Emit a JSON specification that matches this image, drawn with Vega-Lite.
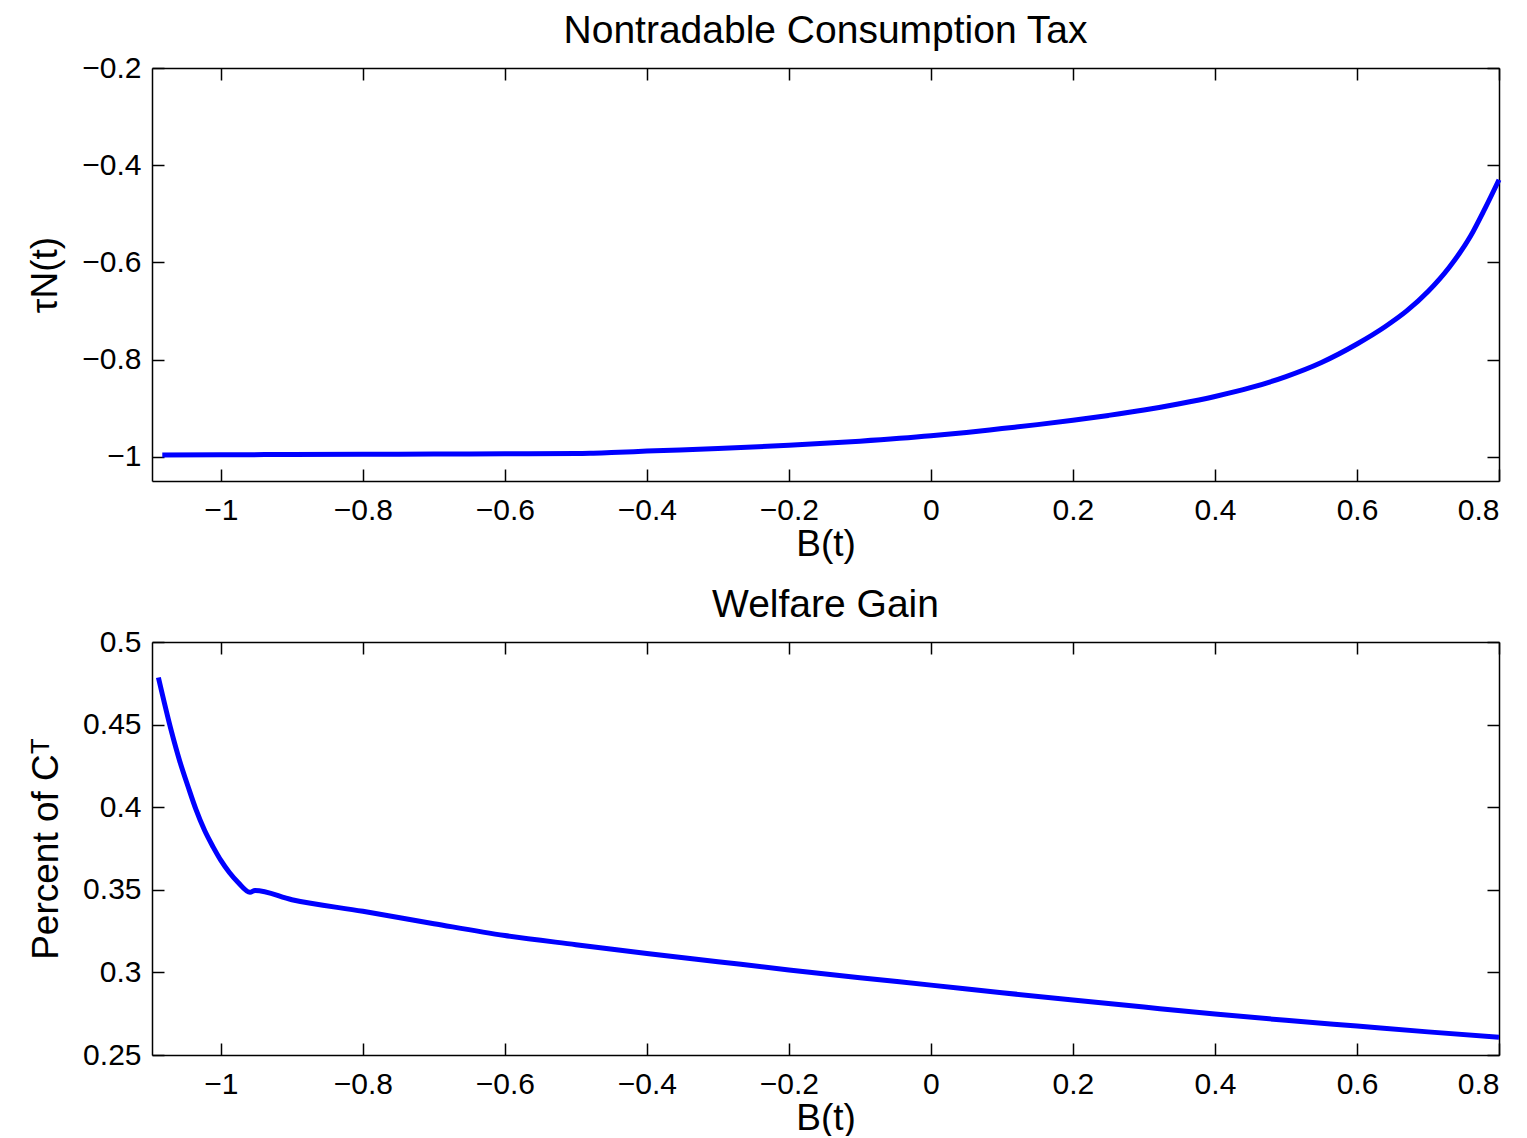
{
  "$schema": "https://vega.github.io/schema/vega-lite/v6.json",
  "background": "white",
  "padding": {"left": 26, "top": 12, "right": 10, "bottom": 0},
  "config": {
    "font": "Liberation Sans",
    "view": {"stroke": null},
    "axis": {
      "grid": false,
      "domainColor": "black",
      "domainWidth": 1.5,
      "tickColor": "black",
      "tickWidth": 1.5,
      "tickSize": -12,
      "labelFont": "Liberation Sans",
      "labelFontSize": 30,
      "labelColor": "black",
      "titleFont": "Liberation Sans",
      "titleFontSize": 37,
      "titleFontWeight": "normal",
      "titleColor": "black"
    },
    "title": {"font": "Liberation Sans", "fontSize": 39, "fontWeight": "normal", "color": "black"}
  },
  "datasets": {
    "tau": [
      {"B": -1.0825, "tau": -0.9965},
      {"B": -1.0, "tau": -0.996},
      {"B": -0.9, "tau": -0.9955},
      {"B": -0.8, "tau": -0.995},
      {"B": -0.7, "tau": -0.9945},
      {"B": -0.6, "tau": -0.994},
      {"B": -0.5, "tau": -0.9935},
      {"B": -0.48, "tau": -0.993},
      {"B": -0.45, "tau": -0.9915},
      {"B": -0.4, "tau": -0.9885},
      {"B": -0.3, "tau": -0.983},
      {"B": -0.2, "tau": -0.9765},
      {"B": -0.1, "tau": -0.968},
      {"B": 0.0, "tau": -0.957},
      {"B": 0.05, "tau": -0.95},
      {"B": 0.1, "tau": -0.942},
      {"B": 0.15, "tau": -0.934},
      {"B": 0.2, "tau": -0.925},
      {"B": 0.25, "tau": -0.915},
      {"B": 0.3, "tau": -0.904},
      {"B": 0.35, "tau": -0.891},
      {"B": 0.4, "tau": -0.876},
      {"B": 0.45, "tau": -0.858},
      {"B": 0.5, "tau": -0.835},
      {"B": 0.55, "tau": -0.806},
      {"B": 0.6, "tau": -0.768},
      {"B": 0.64, "tau": -0.732},
      {"B": 0.67, "tau": -0.7},
      {"B": 0.7, "tau": -0.66},
      {"B": 0.73, "tau": -0.61},
      {"B": 0.76, "tau": -0.546},
      {"B": 0.78, "tau": -0.49},
      {"B": 0.8, "tau": -0.43}
    ],
    "welfare": [
      {"B": -1.088, "w": 0.4785},
      {"B": -1.07, "w": 0.4465},
      {"B": -1.058, "w": 0.428},
      {"B": -1.046, "w": 0.4122},
      {"B": -1.035, "w": 0.3985},
      {"B": -1.023, "w": 0.386},
      {"B": -1.011, "w": 0.376},
      {"B": -1.0, "w": 0.3678},
      {"B": -0.988, "w": 0.3605},
      {"B": -0.976, "w": 0.3546},
      {"B": -0.959, "w": 0.3485},
      {"B": -0.952, "w": 0.3496},
      {"B": -0.9, "w": 0.344},
      {"B": -0.8, "w": 0.337},
      {"B": -0.7, "w": 0.3295},
      {"B": -0.6, "w": 0.3223},
      {"B": -0.5, "w": 0.3168},
      {"B": -0.4, "w": 0.3115},
      {"B": -0.3, "w": 0.3065},
      {"B": -0.2, "w": 0.3015},
      {"B": -0.1, "w": 0.2968},
      {"B": 0.0, "w": 0.2923},
      {"B": 0.1, "w": 0.2877},
      {"B": 0.2, "w": 0.2833},
      {"B": 0.3, "w": 0.279},
      {"B": 0.4, "w": 0.2748},
      {"B": 0.5, "w": 0.271},
      {"B": 0.6, "w": 0.2675},
      {"B": 0.7, "w": 0.264},
      {"B": 0.8, "w": 0.2607}
    ]
  },
  "spacing": 24,
  "vconcat": [
    {
      "width": 1347,
      "height": 413,
      "title": {"text": "Nontradable Consumption Tax", "offset": 2},
      "data": {"name": "tau"},
      "layer": [
        {
          "mark": {"type": "line", "color": "#0000FF", "strokeWidth": 5, "interpolate": "monotone"},
          "encoding": {
            "x": {"field": "B", "type": "quantitative", "scale": {"domain": [-1.097, 0.8], "nice": false, "zero": false},
              "axis": {"title": "B(t)", "values": [-1, -0.8, -0.6, -0.4, -0.2, 0, 0.2, 0.4, 0.6, 0.8], "format": "~g", "labelPadding": 26, "titlePadding": 1}},
            "y": {"field": "tau", "type": "quantitative", "scale": {"domain": [-1.05, -0.2], "nice": false, "zero": false},
              "axis": {"title": "τN(t)", "values": [-1, -0.8, -0.6, -0.4, -0.2], "format": "~g", "labelPadding": 23, "titlePadding": 17}}
          }
        },
        {
          "mark": {"type": "line", "opacity": 0},
          "encoding": {
            "x": {"field": "B", "type": "quantitative", "axis": {"orient": "top", "labels": false, "title": null, "values": [-1, -0.8, -0.6, -0.4, -0.2, 0, 0.2, 0.4, 0.6, 0.8]}},
            "y": {"field": "tau", "type": "quantitative", "axis": {"orient": "right", "labels": false, "title": null, "values": [-1, -0.8, -0.6, -0.4, -0.2]}}
          }
        }
      ],
      "resolve": {"axis": {"x": "independent", "y": "independent"}}
    },
    {
      "width": 1347,
      "height": 413,
      "title": {"text": "Welfare Gain", "offset": 2},
      "data": {"name": "welfare"},
      "layer": [
        {
          "mark": {"type": "line", "color": "#0000FF", "strokeWidth": 5, "interpolate": "monotone"},
          "encoding": {
            "x": {"field": "B", "type": "quantitative", "scale": {"domain": [-1.097, 0.8], "nice": false, "zero": false},
              "axis": {"title": "B(t)", "values": [-1, -0.8, -0.6, -0.4, -0.2, 0, 0.2, 0.4, 0.6, 0.8], "format": "~g", "labelPadding": 26, "titlePadding": 1}},
            "y": {"field": "w", "type": "quantitative", "scale": {"domain": [0.25, 0.5], "nice": false, "zero": false},
              "axis": {"title": "Percent of Cᵀ", "values": [0.25, 0.3, 0.35, 0.4, 0.45, 0.5], "format": "~g", "labelPadding": 23, "titlePadding": 17}}
          }
        },
        {
          "mark": {"type": "line", "opacity": 0},
          "encoding": {
            "x": {"field": "B", "type": "quantitative", "axis": {"orient": "top", "labels": false, "title": null, "values": [-1, -0.8, -0.6, -0.4, -0.2, 0, 0.2, 0.4, 0.6, 0.8]}},
            "y": {"field": "w", "type": "quantitative", "axis": {"orient": "right", "labels": false, "title": null, "values": [0.25, 0.3, 0.35, 0.4, 0.45, 0.5]}}
          }
        }
      ],
      "resolve": {"axis": {"x": "independent", "y": "independent"}}
    }
  ]
}
